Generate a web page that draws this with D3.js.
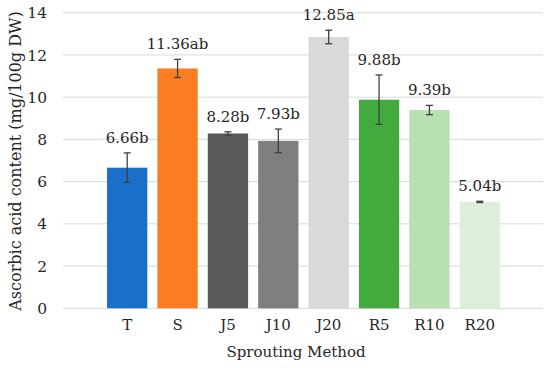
<!DOCTYPE html>
<meta charset="utf-8">
<style>
  body { margin: 0; background: #fff; }
</style>
<div id="chart"></div>
<script src="https://d3js.org/d3.v7.min.js"></script>
<script>

// data
var methods = ["T", "S", "J5", "J10", "J20", "R5", "R10", "R20"];
var values  = [6.66, 11.36, 8.28, 7.93, 12.85, 9.88, 9.39, 5.04];
var errors  = [0.70, 0.43, 0.08, 0.56, 0.32, 1.17, 0.22, 0.03];
var letters = ["b", "ab", "b", "b", "a", "b", "b", "b"];
var colors  = ["#1a70c8", "#fa7d23", "#595959", "#7f7f7f", "#d9d9d9", "#43ab3e", "#b9e0b3", "#dcefd8"];
var yTicks  = [0, 2, 4, 6, 8, 10, 12, 14];

var W = 550, H = 368;
var font = "'DejaVu Serif', serif";

var svg = d3.select("#chart")
  .append("svg")
    .attr("width", W)
    .attr("height", H)
    .attr("font-family", font)
    .attr("fill", "#262626");

// y scale
var y = d3.scaleLinear()
    .domain([0, 14])
    .range([308.3, 12.7]);

// x scale: bars sit inside a wider grid area
var x = d3.scaleBand()
    .domain(methods)
    .range([102, 505])
    .paddingInner(0.2)
    .paddingOuter(0.1);

var gridLeft = 63, gridRight = 543;

// gridlines
svg.append("g")
  .selectAll("line")
  .data(yTicks)
  .enter()
  .append("line")
    .attr("x1", gridLeft)
    .attr("x2", gridRight)
    .attr("y1", function(d){ return y(d) })
    .attr("y2", function(d){ return y(d) })
    .attr("stroke", "#d9d9d9")
    .attr("stroke-width", 1);

// y tick labels
svg.append("g")
  .selectAll("text")
  .data(yTicks)
  .enter()
  .append("text")
    .attr("x", 47)
    .attr("y", function(d){ return y(d) })
    .attr("dy", "0.36em")
    .attr("text-anchor", "end")
    .style("font-size", "15.5px")
    .text(function(d){ return d });

// bars
svg.append("g")
  .selectAll("rect")
  .data(methods)
  .enter()
  .append("rect")
    .attr("x", function(d){ return x(d) })
    .attr("width", x.bandwidth())
    .attr("y", function(d, i){ return y(values[i]) })
    .attr("height", function(d, i){ return y(0) - y(values[i]) })
    .attr("fill", function(d, i){ return colors[i] });

// error bars
var eb = svg.append("g")
  .selectAll("g")
  .data(methods)
  .enter()
  .append("g")
    .attr("stroke", "#404040")
    .attr("stroke-width", 1.3);

eb.append("line")
  .attr("x1", function(d){ return x(d) + x.bandwidth() / 2 })
  .attr("x2", function(d){ return x(d) + x.bandwidth() / 2 })
  .attr("y1", function(d, i){ return y(values[i] - errors[i]) })
  .attr("y2", function(d, i){ return y(values[i] + errors[i]) });

[-1, 1].forEach(function(s){
  eb.append("line")
    .attr("x1", function(d){ return x(d) + x.bandwidth() / 2 - 3.5 })
    .attr("x2", function(d){ return x(d) + x.bandwidth() / 2 + 3.5 })
    .attr("y1", function(d, i){ return y(values[i] + s * errors[i]) })
    .attr("y2", function(d, i){ return y(values[i] + s * errors[i]) });
});

// value labels
svg.append("g")
  .selectAll("text")
  .data(methods)
  .enter()
  .append("text")
    .attr("x", function(d){ return x(d) + x.bandwidth() / 2 })
    .attr("y", function(d, i){ return y(values[i] + errors[i]) - 10 })
    .attr("text-anchor", "middle")
    .style("font-size", "15px")
    .text(function(d, i){ return values[i].toFixed(2) + letters[i] });

// x tick labels
svg.append("g")
  .selectAll("text")
  .data(methods)
  .enter()
  .append("text")
    .attr("x", function(d){ return x(d) + x.bandwidth() / 2 })
    .attr("y", 330)
    .attr("text-anchor", "middle")
    .style("font-size", "15px")
    .text(function(d){ return d });

// axis titles
svg.append("text")
  .attr("x", 296)
  .attr("y", 357)
  .attr("text-anchor", "middle")
  .style("font-size", "15px")
  .text("Sprouting Method");

svg.append("text")
  .attr("transform", "translate(21," + 161 + ") rotate(-90)")
  .attr("text-anchor", "middle")
  .style("font-size", "16px")
  .text("Ascorbic acid content (mg/100g DW)");

</script>
